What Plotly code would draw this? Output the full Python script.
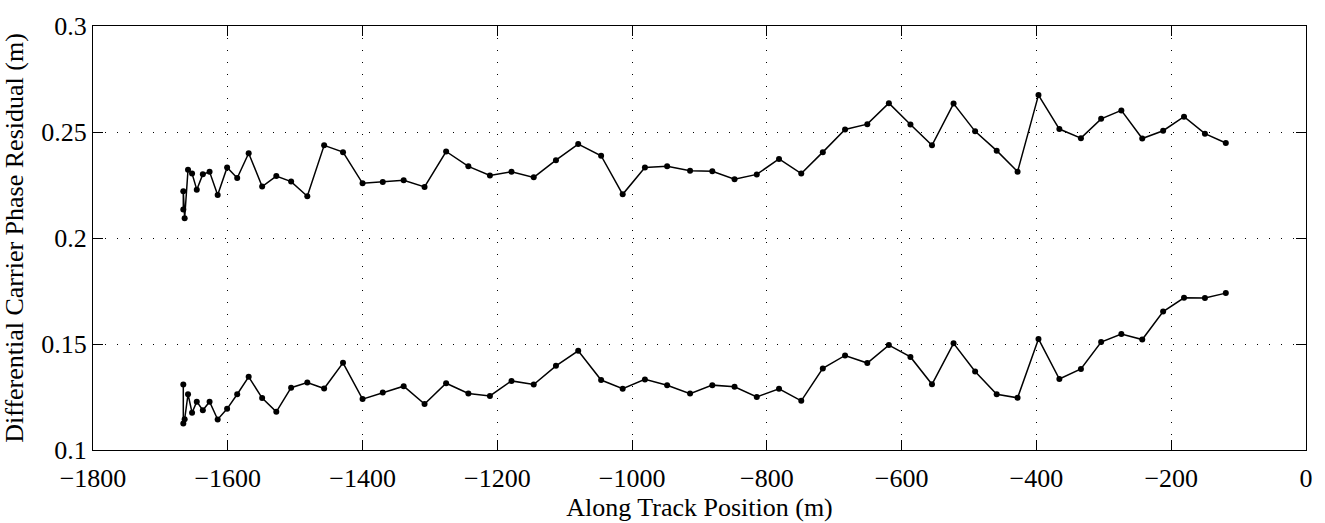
import plotly.graph_objects as go

# Along-track positions (m), shared by both series
along_track = [-1666, -1666, -1664, -1659, -1653, -1646, -1637, -1627, -1615, -1601,
               -1586, -1569, -1549, -1528, -1506, -1482, -1457, -1429, -1400, -1370,
               -1339, -1308, -1276, -1243, -1211, -1179, -1146, -1113, -1080, -1046,
               -1014, -981, -948, -914, -881, -848, -815, -782, -749, -717,
               -684, -651, -619, -587, -555, -523, -491, -459, -428, -397,
               -366, -334, -304, -274, -243, -212, -181, -150, -119]

upper_residual = [0.2134, 0.2220, 0.2093, 0.2322, 0.2304, 0.2228, 0.2301, 0.2312, 0.2203, 0.2333,
                  0.2283, 0.2400, 0.2243, 0.2292, 0.2266, 0.2197, 0.2437, 0.2405, 0.2258, 0.2264,
                  0.2272, 0.2241, 0.2408, 0.2338, 0.2295, 0.2312, 0.2286, 0.2367, 0.2443, 0.2388,
                  0.2206, 0.2333, 0.2338, 0.2317, 0.2315, 0.2277, 0.2300, 0.2373, 0.2304, 0.2405,
                  0.2512, 0.2537, 0.2636, 0.2535, 0.2437, 0.2634, 0.2503, 0.2412, 0.2313, 0.2674,
                  0.2514, 0.2471, 0.2562, 0.2602, 0.2469, 0.2506, 0.2572, 0.2492, 0.2448]

lower_residual = [0.1309, 0.1125, 0.1145, 0.1263, 0.1176, 0.1228, 0.1188, 0.1228, 0.1144, 0.1194,
                  0.1263, 0.1345, 0.1245, 0.1180, 0.1294, 0.1318, 0.1290, 0.1411, 0.1240, 0.1271,
                  0.1301, 0.1217, 0.1315, 0.1267, 0.1255, 0.1326, 0.1309, 0.1397, 0.1468, 0.1330,
                  0.1289, 0.1333, 0.1305, 0.1266, 0.1306, 0.1298, 0.1250, 0.1289, 0.1232, 0.1385,
                  0.1446, 0.1410, 0.1495, 0.1439, 0.1310, 0.1503, 0.1370, 0.1263, 0.1246, 0.1524,
                  0.1335, 0.1382, 0.1509, 0.1547, 0.1521, 0.1653, 0.1718, 0.1717, 0.1740]

x_tick_vals = [-1800, -1600, -1400, -1200, -1000, -800, -600, -400, -200, 0]
x_tick_text = ["−1800", "−1600", "−1400", "−1200", "−1000", "−800", "−600", "−400", "−200", "0"]
y_tick_vals = [0.1, 0.15, 0.2, 0.25, 0.3]
y_tick_text = ["0.1", "0.15", "0.2", "0.25", "0.3"]

FONT = "Liberation Serif, Times New Roman, serif"

fig = go.Figure()
for series in (upper_residual, lower_residual):
    fig.add_trace(go.Scatter(
        x=along_track, y=series, mode="lines+markers",
        line=dict(color="black", width=1.5),
        marker=dict(color="black", size=6),
        showlegend=False,
    ))

axis_common = dict(
    showline=True, linecolor="black", linewidth=1.2, mirror="ticks",
    ticks="inside", ticklen=10, tickwidth=1, tickcolor="black",
    showgrid=True, gridcolor="black", gridwidth=1, griddash="1px,11px",
    zeroline=False,
    tickfont=dict(family=FONT, size=26, color="black"),
)

fig.update_layout(
    width=1325, height=523,
    margin=dict(l=93, r=14, t=17, b=70),
    paper_bgcolor="white", plot_bgcolor="white",
    font=dict(family=FONT, size=26, color="black"),
    xaxis=dict(range=[-1800, 0], tickvals=x_tick_vals, ticktext=x_tick_text,
               ticklabelstandoff=5,
               title=dict(text="Along Track Position (m)", standoff=0,
                          font=dict(family=FONT, size=26)),
               **axis_common),
    yaxis=dict(range=[0.1, 0.3], tickvals=y_tick_vals, ticktext=y_tick_text,
               title=dict(text="Differential Carrier Phase Residual (m)", standoff=10,
                          font=dict(family=FONT, size=26)),
               **axis_common),
)

fig.write_html("out.html")
